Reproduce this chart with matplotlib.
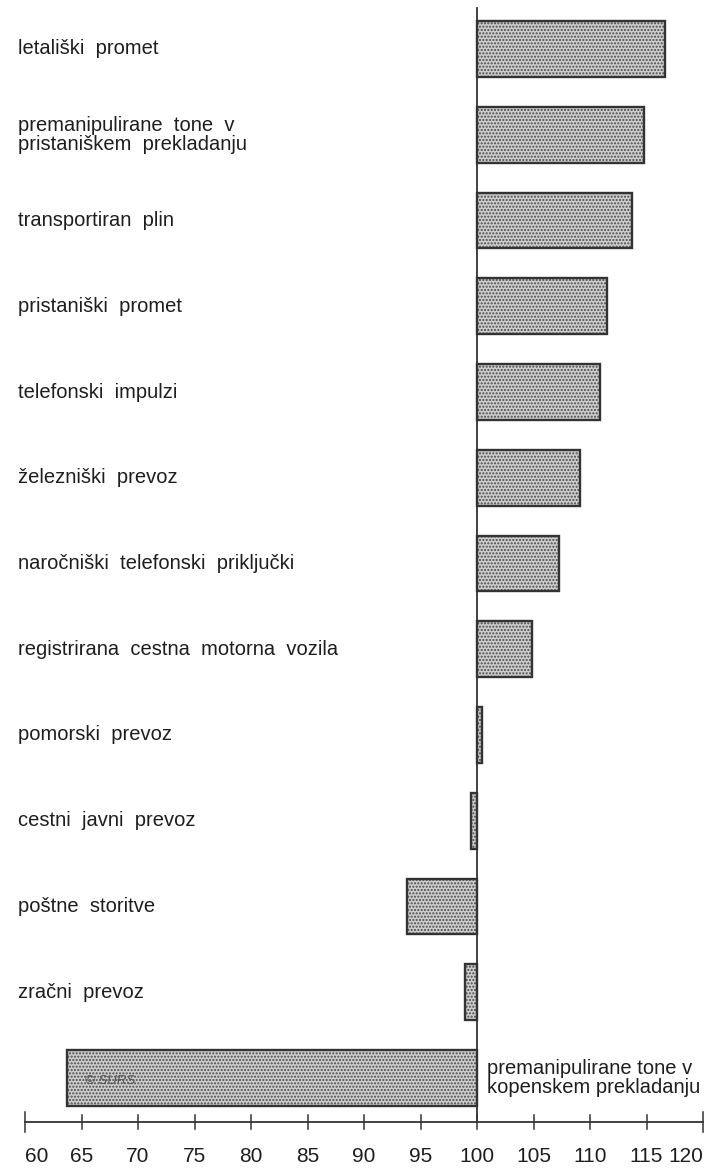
import matplotlib
matplotlib.use("Agg")
import matplotlib.pyplot as plt

plt.rcParams['font.family'] = ['Liberation Sans', 'DejaVu Sans']
plt.rcParams['hatch.linewidth'] = 1.0

categories = [
    "letališki  promet",
    "premanipulirane  tone  v\npristaniškem  prekladanju",
    "transportiran  plin",
    "pristaniški  promet",
    "telefonski  impulzi",
    "železniški  prevoz",
    "naročniški  telefonski  priključki",
    "registrirana  cestna  motorna  vozila",
    "pomorski  prevoz",
    "cestni  javni  prevoz",
    "poštne  storitve",
    "zračni  prevoz",
    "premanipulirane tone v\nkopenskem prekladanju",
]
values = [116.6, 114.8, 113.7, 111.5, 110.9, 109.1, 107.3, 104.9, 100.4, 99.5, 93.8, 98.9, 63.7]
tick_values = [60, 65, 70, 75, 80, 85, 90, 95, 100, 105, 110, 115, 120]
baseline = 100

W, H = 709, 1168
px_per_unit = 11.3
x0_px = 25
row0_px = 49
row_px = 85.75

fig = plt.figure(figsize=(W / 100, H / 100), dpi=100)
ax = fig.add_axes([0, 0, 1, 1])
ax.set_xlim(60 - x0_px / px_per_unit, 60 + (W - x0_px) / px_per_unit)
ax.set_ylim((H - row0_px) / row_px, -row0_px / row_px)
ax.axis('off')

text_color = '#1e1e1e'
line_color = '#333333'
n = len(categories)
ypos = list(range(n))
widths = [v - baseline for v in values]

# stippled fill
ax.barh(ypos, widths, left=baseline, height=0.65, color='#cdcdcd',
        edgecolor='#4a4a4a', hatch='.....', linewidth=0, zorder=2)
# outline
ax.barh(ypos, widths, left=baseline, height=0.65, fill=False,
        edgecolor=line_color, linewidth=1.7, zorder=3)

# baseline vertical line
axis_y = (1122 - row0_px) / row_px
ax.plot([baseline, baseline], [-0.48, axis_y], color=line_color, lw=1.3, zorder=4)

# labels on left
for i, lab in enumerate(categories[:-1]):
    ax.text(18 / W, i, lab, transform=ax.get_yaxis_transform(), ha='left',
            va='center', fontsize=14.5, color=text_color, linespacing=1.0)
# last label right of baseline
ax.text(baseline + 0.9, n - 1, categories[-1], ha='left', va='center',
        fontsize=14.5, color=text_color, linespacing=1.0)

# SURS mark
ax.text(65.3, n - 1 + 0.03, "© SURS", ha='left', va='center', fontsize=9.5,
        color='#555555', style='italic', zorder=5)

# bottom axis
ax.plot([tick_values[0], tick_values[-1]], [axis_y, axis_y], color=line_color, lw=1.3)
for t in tick_values:
    h = 0.12 if t in (tick_values[0], tick_values[-1]) else 0.08
    ax.plot([t, t], [axis_y - h, axis_y + h], color=line_color, lw=1.1)
    ha = 'center'
    if t == tick_values[0]:
        ha = 'left'
    elif t == tick_values[-1]:
        ha = 'right'
    ax.text(t, axis_y + 0.40, str(t), ha=ha, va='center', fontsize=15,
            color=text_color)

fig.savefig("out.png", dpi=100)
